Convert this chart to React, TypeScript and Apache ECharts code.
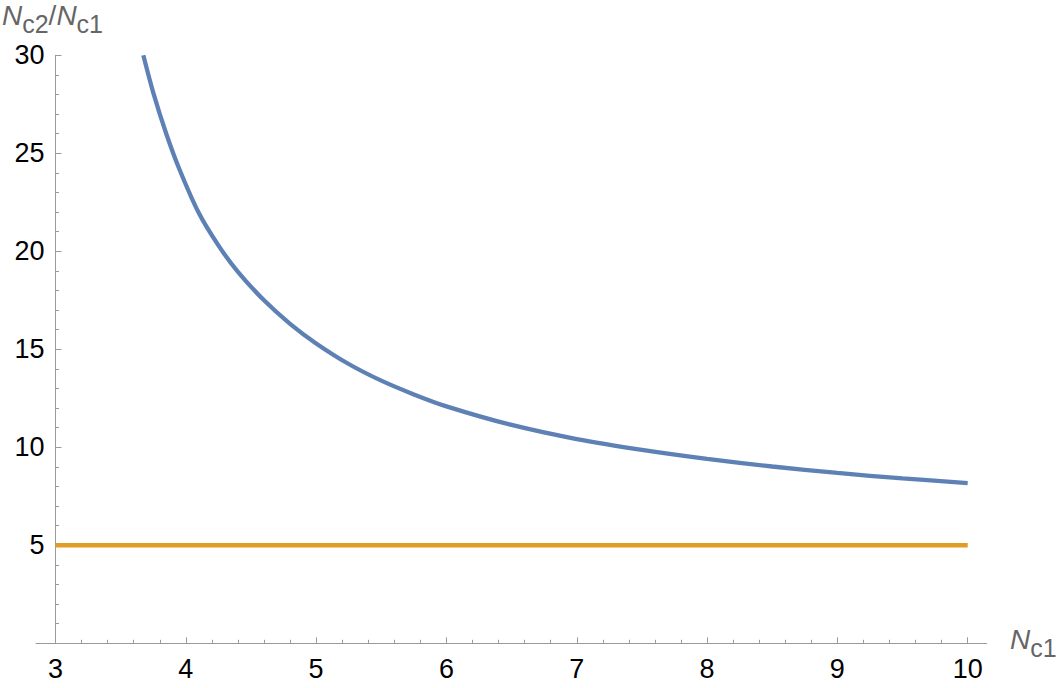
import React, { useEffect, useRef } from "react";
import * as echarts from "echarts";

// Blue curve: N_c2/N_c1 versus N_c1
const blueX = [3.674, 3.75, 3.85, 3.95, 4.1, 4.25, 4.4, 4.6, 4.8, 5.0, 5.25, 5.5, 5.75, 6.0, 6.5, 7.0, 7.5, 8.0, 8.5, 9.0, 9.5, 10.0];
const blueY = [30, 28.1, 26.0, 24.2, 21.95, 20.3, 18.95, 17.5, 16.3, 15.3, 14.25, 13.4, 12.7, 12.09, 11.14, 10.42, 9.87, 9.41, 9.02, 8.69, 8.415, 8.175];

// Orange constant line
const orangeX = [3, 10];
const orangeY = [5, 5];

// Axis ranges / ticks
const xMin = 3;
const xMax = 10;
const xStep = 1;
const yMin = 0;
const yMax = 30;
const yStep = 5;

const FONT = "'Liberation Sans', Arial, sans-serif";
const AXIS_GRAY = "#9a9a9a";
const NAME_GRAY = "#666666";

export default function App() {
  const ref = useRef<HTMLDivElement>(null);

  useEffect(() => {
    if (!ref.current) return;
    const chart = echarts.init(ref.current, null, { renderer: "svg" });

    const nameRich = {
      i: { fontStyle: "italic", fontSize: 28, fill: NAME_GRAY, fontFamily: FONT },
      n: { fontSize: 28, fill: NAME_GRAY, fontFamily: FONT },
      s: { fontSize: 25, fill: NAME_GRAY, fontFamily: FONT, padding: [18, 0, 0, 0] },
    };

    const option: any = {
      animation: false,
      backgroundColor: "#ffffff",
      grid: [
        { left: 55.5, right: 95.3, top: 55.3, bottom: 44.7, containLabel: false },
        { left: 36, right: 76.3, top: 55.3, bottom: 44.7, containLabel: false },
      ],
      xAxis: [
        {
          type: "value",
          gridIndex: 0,
          min: xMin,
          max: xMax,
          interval: xStep,
          axisLine: { show: false },
          axisTick: { show: true, inside: true, length: 6, lineStyle: { color: AXIS_GRAY, width: 1 } },
          minorTick: { show: true, splitNumber: 5, length: 3.5, lineStyle: { color: AXIS_GRAY, width: 1 } },
          axisLabel: { color: "#000", fontSize: 27, fontFamily: FONT, margin: 12 },
          splitLine: { show: false },
        },
        {
          type: "value",
          gridIndex: 1,
          min: 0,
          max: 1,
          axisLine: { show: true, lineStyle: { color: AXIS_GRAY, width: 1 } },
          axisTick: { show: false },
          axisLabel: { show: false },
          splitLine: { show: false },
        },
      ],
      yAxis: [
        {
          type: "value",
          gridIndex: 0,
          min: yMin,
          max: yMax,
          interval: yStep,
          axisLine: { show: true, lineStyle: { color: AXIS_GRAY, width: 1 } },
          axisTick: { show: true, inside: true, length: 6, lineStyle: { color: AXIS_GRAY, width: 1 } },
          minorTick: { show: true, splitNumber: 5, length: 3.5, lineStyle: { color: AXIS_GRAY, width: 1 } },
          axisLabel: {
            color: "#000",
            fontSize: 27,
            fontFamily: FONT,
            margin: 11,
            formatter: (v: number) => (v === 0 ? "" : String(v)),
          },
          splitLine: { show: false },
        },
        {
          type: "value",
          gridIndex: 1,
          min: 0,
          max: 1,
          show: false,
        },
      ],
      series: [
        {
          type: "line",
          xAxisIndex: 0,
          yAxisIndex: 0,
          data: orangeX.map((x, i) => [x, orangeY[i]]),
          showSymbol: false,
          lineStyle: { color: "#E19C24", width: 4.5 },
          itemStyle: { color: "#E19C24" },
          z: 3,
        },
        {
          type: "line",
          xAxisIndex: 0,
          yAxisIndex: 0,
          data: blueX.map((x, i) => [x, blueY[i]]),
          showSymbol: false,
          smooth: 0.3,
          lineStyle: { color: "#5E81B5", width: 4.3 },
          itemStyle: { color: "#5E81B5" },
          z: 4,
        },
      ],
      graphic: [
        {
          type: "text",
          left: 2,
          top: 1,
          style: { text: "{i|N}{s|c2}{n|/}{i|N}{s|c1}", rich: nameRich },
        },
        {
          type: "text",
          left: 1010,
          top: 625,
          style: { text: "{i|N}{s|c1}", rich: nameRich },
        },
      ],
    };

    chart.setOption(option);
    return () => chart.dispose();
  }, []);

  return (
    <div
      ref={ref}
      style={{ position: "fixed", left: 0, top: 0, width: 1063, height: 688, background: "#fff" }}
    />
  );
}
